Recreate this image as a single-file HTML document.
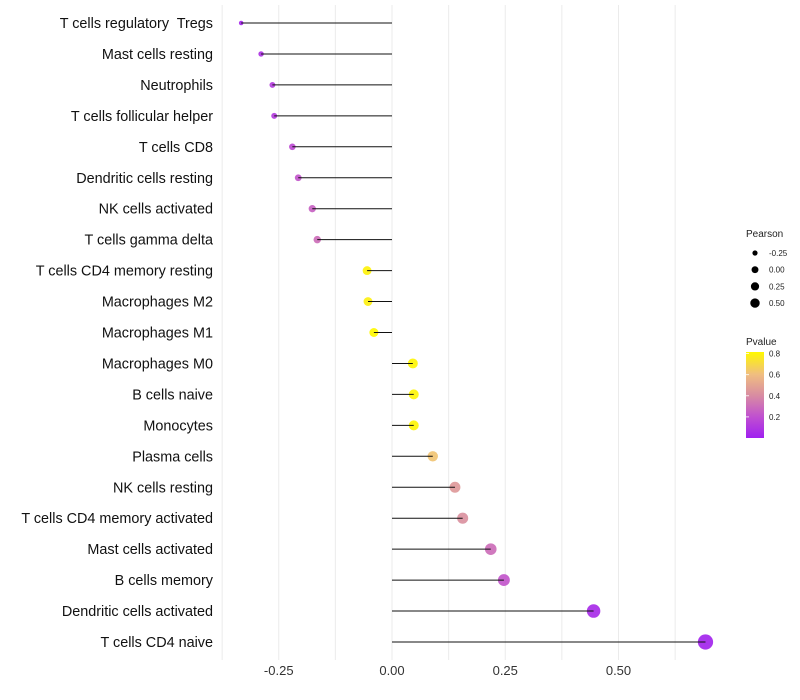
<!DOCTYPE html>
<html><head><meta charset="utf-8"><style>body{margin:0;background:#fff}svg{display:block}text{font-family:"Liberation Sans",Arial,sans-serif;white-space:pre}</style></head>
<body>
<svg id="chart" width="800" height="700"></svg>
<script>
const categories=["T cells regulatory  Tregs","Mast cells resting","Neutrophils","T cells follicular helper","T cells CD8","Dendritic cells resting","NK cells activated","T cells gamma delta","T cells CD4 memory resting","Macrophages M2","Macrophages M1","Macrophages M0","B cells naive","Monocytes","Plasma cells","NK cells resting","T cells CD4 memory activated","Mast cells activated","B cells memory","Dendritic cells activated","T cells CD4 naive"];
const pearson=[-0.333,-0.289,-0.264,-0.260,-0.220,-0.207,-0.176,-0.165,-0.055,-0.053,-0.040,0.046,0.048,0.048,0.090,0.139,0.156,0.218,0.247,0.445,0.692];
const pvalues=[0.03,0.08,0.12,0.12,0.18,0.22,0.26,0.30,0.79,0.78,0.82,0.80,0.80,0.80,0.62,0.45,0.42,0.30,0.22,0.05,0.02];
const xTicks=[-0.25,0,0.25,0.5];
const xTickLabels=["-0.25","0.00","0.25","0.50"];
const sizeLegend=[-0.25,0,0.25,0.5];
const sizeLegendLabels=["-0.25","0.00","0.25","0.50"];
const pTicks=[0.8,0.6,0.4,0.2];

const NS="http://www.w3.org/2000/svg";
const svg=document.getElementById('chart');
const X=v=>392+v*453;
const Y=i=>23+i*30.95;
const R=p=>Math.sqrt(Math.max(2.2,22.4+52*p));
const RL=p=>Math.sqrt(Math.max(2,13.7+26*p));
const stops=[[0,[160,32,240]],[0.2,[192,80,208]],[0.4,[216,140,162]],[0.6,[240,190,128]],[0.81,[255,248,0]]];
function col(p){p=Math.max(0,Math.min(0.81,p));for(let k=1;k<stops.length;k++){if(p<=stops[k][0]){const a=stops[k-1],b=stops[k],t=(p-a[0])/(b[0]-a[0]);return 'rgb('+a[1].map((c,j)=>Math.round(c+(b[1][j]-c)*t)).join(',')+')';}}return 'rgb(255,248,0)';}
function el(t,a,txt){const e=document.createElementNS(NS,t);for(const k in a)e.setAttribute(k,a[k]);if(txt!=null)e.textContent=txt;svg.appendChild(e);return e;}

for(let v=-0.375;v<=0.63;v+=0.125){
 const g=el('line',{x1:X(v),x2:X(v),y1:5,y2:660,stroke:'#ebebeb','stroke-width':1});
 
 
}
xTicks.forEach((v,i)=>{
 const t=el('text',{x:X(v),y:675,'font-size':13,'text-anchor':'middle',fill:'#333'},xTickLabels[i]);
 
 
});
categories.forEach((c,i)=>{
 const t=el('text',{x:213,y:Y(i)+5,'font-size':14.4,'text-anchor':'end',fill:'#111'},c);
 
 
 const d=el('circle',{cx:X(pearson[i]),cy:Y(i),r:R(pearson[i]),fill:col(pvalues[i]),opacity:0.92});
 
 
 const l=el('line',{x1:X(0),x2:X(pearson[i]),y1:Y(i),y2:Y(i),stroke:'#111','stroke-width':1});
 
 
});
const st=el('text',{x:746,y:237,'font-size':10,fill:'#222'},'Pearson');


sizeLegend.forEach((v,i)=>{
 const y=253+i*16.7;
 const c=el('circle',{cx:755,cy:y,r:RL(v)*0.85+0.3,fill:'#000'});
 
 
 const t=el('text',{x:769,y:y+3,'font-size':8,fill:'#222'},sizeLegendLabels[i]);
 
 
});
const ct=el('text',{x:746,y:345,'font-size':10,fill:'#222'},'Pvalue');


const defs=el('defs',{});
const gr=document.createElementNS(NS,'linearGradient');gr.setAttribute('id','pg');gr.setAttribute('x1','0');gr.setAttribute('y1','1');gr.setAttribute('x2','0');gr.setAttribute('y2','0');
stops.forEach(s=>{const o=document.createElementNS(NS,'stop');o.setAttribute('offset',s[0]/0.81);o.setAttribute('stop-color','rgb('+s[1].join(',')+')');gr.appendChild(o);});
defs.appendChild(gr);
const bar=el('rect',{x:746,y:352,width:18,height:86,fill:'url(#pg)'});


pTicks.forEach(p=>{
 const y=438-p*105.5;
 const tk=el('line',{x1:746,x2:749,y1:y,y2:y,stroke:'#fff','stroke-width':0.8});
 
 
 const t=el('text',{x:769,y:y+3,'font-size':8,fill:'#222'},p.toFixed(1));
 
 
});
</script>
</body></html>
